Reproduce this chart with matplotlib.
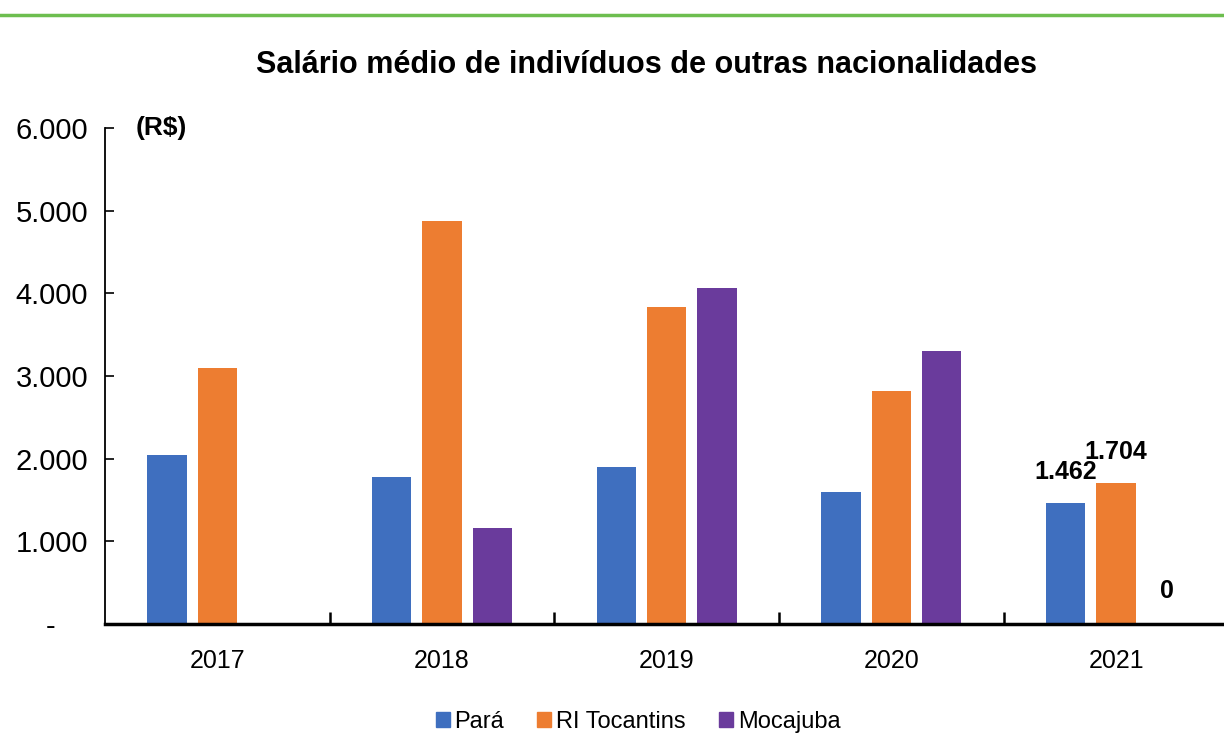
import numpy as np
import matplotlib.pyplot as plt
from matplotlib.lines import Line2D
from matplotlib.patches import Patch

# DATA
years = ["2017", "2018", "2019", "2020", "2021"]
para = [2050, 1780, 1900, 1600, 1462]
ri_tocantins = [3100, 4880, 3840, 2820, 1704]
mocajuba = [0, 1160, 4070, 3300, 0]
series_names = ["Pará", "RI Tocantins", "Mocajuba"]
y_ticks = [0, 1000, 2000, 3000, 4000, 5000, 6000]
y_tick_labels = ["-    ", "1.000", "2.000", "3.000", "4.000", "5.000", "6.000"]

colors = ["#3F6FBF", "#ED7D31", "#6A3B9C"]

plt.rcParams["font.family"] = ["Liberation Sans", "DejaVu Sans"]

fig = plt.figure(figsize=(12.24, 7.35), dpi=100)
ax = fig.add_axes([105 / 1224, 1 - 624 / 735, 1 - 105 / 1224, 496 / 735])

x = np.arange(len(years))
w = 0.175
off = 0.224
for i, vals in enumerate([para, ri_tocantins, mocajuba]):
    ax.bar(x + (i - 1) * off, vals, width=w, color=colors[i], zorder=2)

ax.set_xlim(-0.5, 4.48)
ax.set_ylim(0, 6000)
ax.set_yticks(y_ticks)
ax.set_yticklabels(y_tick_labels, fontsize=21)
ax.set_xticks(x)
ax.set_xticklabels(years, fontsize=18)
ax.tick_params(axis="x", length=0, pad=18)
ax.tick_params(axis="y", direction="in", length=6.5, width=1.2, pad=12)
# tick marks between categories
ax.set_xticks(np.arange(0.5, 4.5, 1), minor=True)
ax.tick_params(axis="x", which="minor", direction="in", length=9, width=1.8)

for s in ["top", "right"]:
    ax.spines[s].set_visible(False)
ax.spines["left"].set_linewidth(1.3)
ax.spines["bottom"].set_linewidth(2.5)

# data labels for 2021
ax.text(x[4] - off, para[4] + 230, "1.462", ha="center", va="bottom",
        fontsize=18, fontweight="bold")
ax.text(x[4], ri_tocantins[4] + 230, "1.704", ha="center", va="bottom",
        fontsize=18, fontweight="bold")
ax.text(x[4] + off, mocajuba[4] + 250, "0", ha="center", va="bottom",
        fontsize=18, fontweight="bold")

ax.text(0.027, 6000, "(R$)", transform=ax.get_yaxis_transform(),
        ha="left", va="center", fontsize=19, fontweight="bold")

fig.text(647 / 1224, 1 - 65 / 735, "Salário médio de indivíduos de outras nacionalidades",
         ha="center", va="center", fontsize=22, fontweight="bold")

# green line at top
fig.add_artist(Line2D([0, 1], [1 - 15 / 735, 1 - 15 / 735], color="#6DBE4F",
                      linewidth=2.5, transform=fig.transFigure))

handles = [Patch(color=c) for c in colors]
fig.legend(handles, series_names, loc="center", bbox_to_anchor=(638 / 1224, 1 - 722 / 735),
           ncol=3, frameon=False, fontsize=17, handlelength=0.6, handleheight=0.6,
           handletextpad=0.2, columnspacing=1.4)

fig.savefig("out.png", dpi=100)
